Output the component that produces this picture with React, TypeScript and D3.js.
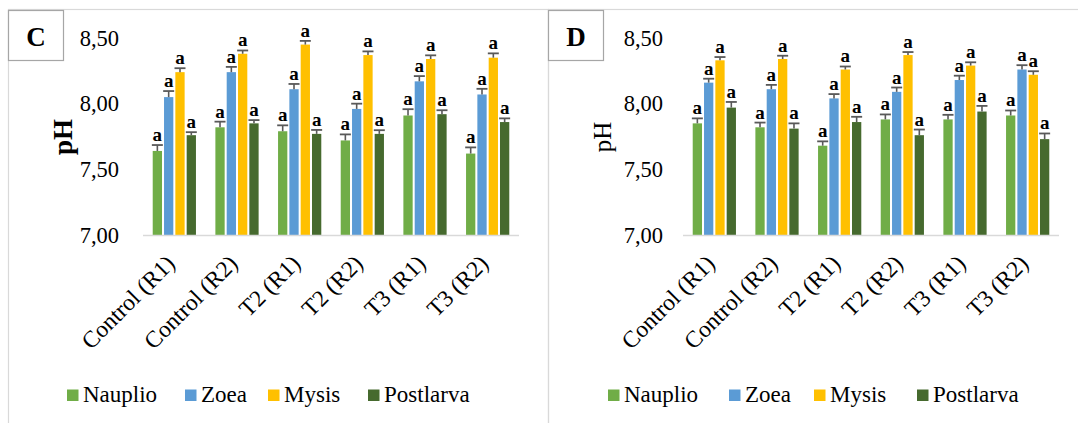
import React from "react";
import * as d3 from "d3";

const categories = ["Control (R1)", "Control (R2)", "T2 (R1)", "T2 (R2)", "T3 (R1)", "T3 (R2)"];
const stages = ["Nauplio", "Zoea", "Mysis", "Postlarva"];
const stageColors = ["#70ad47", "#5b9bd5", "#ffc000", "#466a2e"];
const yTicks = [7.0, 7.5, 8.0, 8.5];

// Panel C: mean pH per stage and treatment, with standard error
const cNauplio = [7.64, 7.82, 7.79, 7.72, 7.91, 7.62];
const cZoea = [8.05, 8.24, 8.11, 7.96, 8.17, 8.07];
const cMysis = [8.24, 8.38, 8.45, 8.37, 8.34, 8.35];
const cPostlarva = [7.76, 7.85, 7.77, 7.77, 7.92, 7.86];
const cNauplioErr = [0.045, 0.043, 0.045, 0.046, 0.048, 0.047];
const cZoeaErr = [0.046, 0.04, 0.04, 0.04, 0.04, 0.043];
const cMysisErr = [0.03, 0.025, 0.028, 0.028, 0.028, 0.033];
const cPostlarvaErr = [0.023, 0.025, 0.03, 0.028, 0.03, 0.028];

// Panel D
const dNauplio = [7.85, 7.82, 7.68, 7.88, 7.88, 7.91];
const dZoea = [8.16, 8.11, 8.04, 8.09, 8.18, 8.26];
const dMysis = [8.33, 8.34, 8.26, 8.37, 8.29, 8.22];
const dPostlarva = [7.97, 7.81, 7.86, 7.76, 7.94, 7.73];
const dNauplioErr = [0.038, 0.036, 0.033, 0.038, 0.035, 0.038];
const dZoeaErr = [0.03, 0.033, 0.033, 0.033, 0.033, 0.033];
const dMysisErr = [0.025, 0.025, 0.023, 0.023, 0.025, 0.027];
const dPostlarvaErr = [0.043, 0.04, 0.04, 0.043, 0.043, 0.043];

const sigLetter = "a";

const FONT = "'Liberation Serif', 'Times New Roman', serif";

type PanelProps = {
  letter: string;
  frameX: number;
  frameW: number;
  axisX0: number;
  tickRight: number;
  yLabelX: number;
  yLabelBold: boolean;
  legendXs: number[];
  values: number[][];
  errors: number[][];
};

function Panel(p: PanelProps) {
  const x = d3
    .scaleBand<string>()
    .domain(categories)
    .range([p.axisX0, p.axisX0 + 376])
    .paddingInner(0.31)
    .paddingOuter(0.155);
  const xs = d3
    .scaleBand<string>()
    .domain(stages)
    .range([0, x.bandwidth()])
    .paddingInner(0.18);
  const y = d3.scaleLinear().domain([7, 8.5]).range([235, 38]);

  return (
    <g>
      <rect x={p.frameX + 0.5} y={9.5} width={p.frameW} height={600} fill="none" stroke="#d9d9d9" strokeWidth={1.2} />
      <rect x={p.frameX + 0.5} y={10.5} width={55} height={50} fill="#fff" stroke="#a6a6a6" strokeWidth={1.2} />
      <text x={p.frameX + 28} y={46} textAnchor="middle" fontFamily={FONT} fontWeight="bold" fontSize={27} fill="#000">
        {p.letter}
      </text>

      {yTicks.map((t) => (
        <text key={t} x={p.tickRight} y={y(t) + 7.5} textAnchor="end" fontFamily={FONT} fontSize={22.5} fill="#000">
          {d3.format(".2f")(t).replace(".", ",")}
        </text>
      ))}

      <text
        transform={`translate(${p.yLabelX},137) rotate(-90)`}
        textAnchor="middle"
        fontFamily={FONT}
        fontWeight={p.yLabelBold ? "bold" : "normal"}
        fontSize={p.yLabelBold ? 27 : 25}
        fill="#000"
      >
        pH
      </text>

      {categories.map((c, ci) => (
        <g key={c} transform={`translate(${x(c)},0)`}>
          {stages.map((s, si) => {
            const v = p.values[si][ci];
            const e = p.errors[si][ci];
            const bx = xs(s)!;
            const bw = xs.bandwidth();
            const cx = bx + bw / 2;
            return (
              <g key={s}>
                <rect x={bx} y={y(v)} width={bw} height={y(7) - y(v)} fill={stageColors[si]} />
                <line x1={cx} x2={cx} y1={y(v)} y2={y(v + e)} stroke="#595959" strokeWidth={1.6} />
                <line x1={cx - 5.5} x2={cx + 5.5} y1={y(v + e)} y2={y(v + e)} stroke="#595959" strokeWidth={1.8} />
                <text x={cx} y={y(v + e) - 4} textAnchor="middle" fontFamily={FONT} fontWeight="bold" fontSize={19} fill="#000">
                  {sigLetter}
                </text>
              </g>
            );
          })}
        </g>
      ))}

      <line x1={p.axisX0} x2={p.axisX0 + 376} y1={235.5} y2={235.5} stroke="#d9d9d9" strokeWidth={1.5} />

      {categories.map((c) => {
        const cx = x(c)! + x.bandwidth() / 2 + 2;
        return (
          <text
            key={c}
            transform={`translate(${cx},265) rotate(-45)`}
            textAnchor="end"
            fontFamily={FONT}
            fontSize={23.5}
            fill="#000"
          >
            {c}
          </text>
        );
      })}

      {stages.map((s, si) => (
        <g key={s}>
          <rect x={p.legendXs[si]} y={389.5} width={11.5} height={11.5} fill={stageColors[si]} />
          <text x={p.legendXs[si] + 16} y={402} fontFamily={FONT} fontSize={23} fill="#000">
            {s}
          </text>
        </g>
      ))}
    </g>
  );
}

export default function App() {
  return (
    <svg
      width={1078}
      height={423}
      style={{ position: "absolute", left: 0, top: 0, background: "#fff" }}
    >
      <rect width={1078} height={423} fill="#fff" />
      <Panel
        letter="C"
        frameX={8}
        frameW={540}
        axisX0={143}
        tickRight={119}
        yLabelX={72}
        yLabelBold={true}
        legendXs={[67, 185, 268, 368]}
        values={[cNauplio, cZoea, cMysis, cPostlarva]}
        errors={[cNauplioErr, cZoeaErr, cMysisErr, cPostlarvaErr]}
      />
      <Panel
        letter="D"
        frameX={548}
        frameW={600}
        axisX0={683}
        tickRight={663}
        yLabelX={611}
        yLabelBold={false}
        legendXs={[608, 729, 814, 917]}
        values={[dNauplio, dZoea, dMysis, dPostlarva]}
        errors={[dNauplioErr, dZoeaErr, dMysisErr, dPostlarvaErr]}
      />
    </svg>
  );
}
